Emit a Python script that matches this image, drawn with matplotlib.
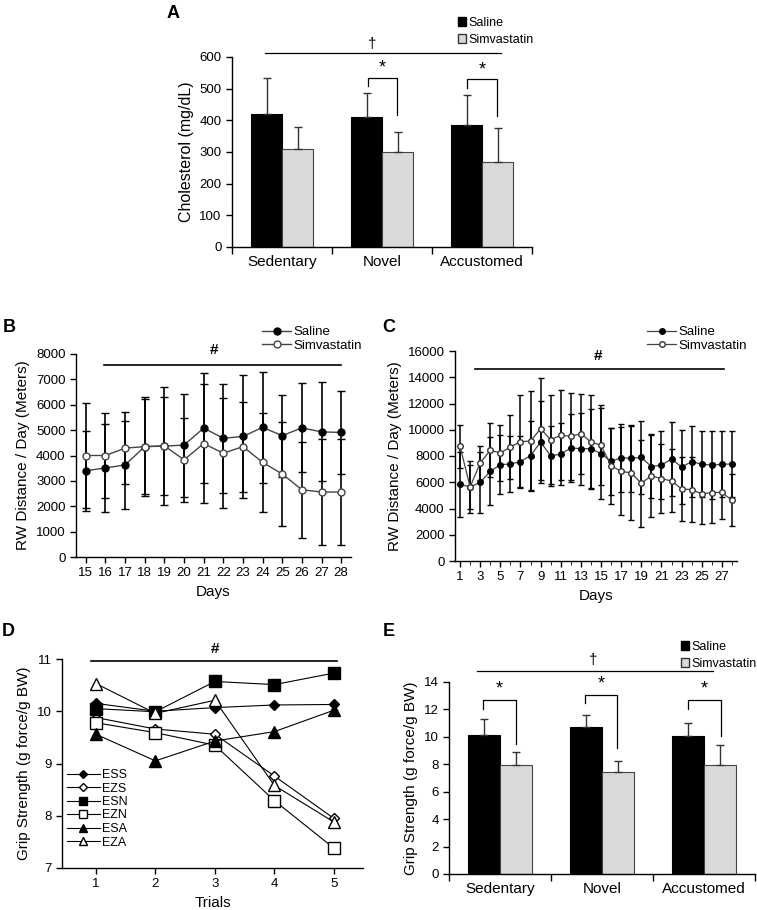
import numpy as np
import matplotlib.pyplot as plt
from matplotlib.patches import Patch

plt.rcParams['font.family'] = ['Liberation Sans', 'DejaVu Sans']
plt.rcParams['axes.linewidth'] = 1.0

# --- data ---
groups = ['Sedentary', 'Novel', 'Accustomed']

# A: cholesterol (mg/dL)
chol_saline = [419, 412, 385]
chol_saline_err = [115, 74, 94]
chol_simva = [310, 301, 267]
chol_simva_err = [69, 63, 110]

# B: RW distance, days 15-28
days_b = list(range(15, 29))
rw_b_saline = [3400, 3510, 3630, 4350, 4370, 4410, 5080, 4680, 4750, 5110, 4780, 5090, 4930, 4910]
rw_b_saline_err = [1580, 1750, 1740, 1880, 1920, 2030, 2180, 2140, 2430, 2200, 1620, 1750, 1950, 1650]
rw_b_simva = [4000, 4000, 4290, 4350, 4380, 3830, 4470, 4090, 4350, 3730, 3270, 2650, 2560, 2560]
rw_b_simva_err = [2050, 1690, 1430, 1950, 2320, 1650, 2350, 2170, 1770, 1950, 2050, 1900, 2080, 2100]

# C: RW distance, days 1-28
days_c = list(range(1, 29))
rw_c_saline = [5840, 5640, 5990, 6830, 7340, 7390, 7570, 8030, 9070, 8000, 8150, 8610, 8560, 8560,
               8180, 7590, 7870, 7820, 7900, 7190, 7310, 7770, 7160, 7570, 7370, 7310, 7370, 7390]
rw_c_saline_err = [2450, 1980, 2300, 2580, 2250, 2150, 1950, 2600, 3150, 2250, 2350, 2600, 2750, 3000,
                   3450, 2580, 2600, 2550, 2770, 2420, 2620, 2850, 2850, 2680, 2520, 2620, 2500, 2500]
rw_c_simva = [8740, 5640, 7470, 8430, 8230, 8690, 9090, 9140, 10080, 9240, 9580, 9500, 9700, 9070,
              8810, 7260, 6830, 6710, 5920, 6500, 6270, 6100, 5490, 5440, 5110, 5210, 5230, 4620]
rw_c_simva_err = [1620, 1650, 1300, 2050, 2150, 2450, 3560, 3800, 3900, 3400, 3430, 3300, 3050, 3550,
                  3050, 2900, 3350, 3600, 3300, 3150, 2650, 2400, 2420, 2480, 2320, 2280, 2050, 1980]

# D: grip strength per trial
trials = [1, 2, 3, 4, 5]
grip_ESS = [10.15, 10.00, 10.07, 10.12, 10.13]
grip_EZS = [9.88, 9.66, 9.56, 8.76, 7.95]
grip_ESN = [10.05, 9.99, 10.57, 10.51, 10.73]
grip_EZN = [9.78, 9.59, 9.35, 8.29, 7.38]
grip_ESA = [9.56, 9.05, 9.43, 9.61, 10.02]
grip_EZA = [10.53, 9.96, 10.21, 8.58, 7.88]

# E: grip strength per group
grip_saline = [10.15, 10.75, 10.05]
grip_saline_err = [1.12, 0.87, 0.95]
grip_simva = [7.98, 7.42, 7.93]
grip_simva_err = [0.92, 0.82, 1.44]

W, H = 757, 910
fig = plt.figure(figsize=(W / 100, H / 100), dpi=100)


def px_axes(left, top, right, bottom):
    return fig.add_axes([left / W, 1 - bottom / H, (right - left) / W, (bottom - top) / H])


def clean(ax):
    ax.spines['top'].set_visible(False)
    ax.spines['right'].set_visible(False)
    ax.tick_params(labelsize=9.5, length=4, width=1)


def bar_panel(ax, sal, sal_err, sim, sim_err):
    x = np.arange(len(groups))
    w = 0.31
    ax.bar(x - w / 2, sal, w, color='black', edgecolor='black', lw=0.8)
    ax.bar(x + w / 2, sim, w, color='#d9d9d9', edgecolor='#444444', lw=0.8)
    ax.errorbar(x - w / 2, sal, yerr=[np.zeros(3), sal_err], fmt='none', ecolor='#333333',
                elinewidth=1, capsize=3)
    ax.errorbar(x + w / 2, sim, yerr=[np.zeros(3), sim_err], fmt='none', ecolor='#333333',
                elinewidth=1, capsize=3)
    ax.set_xlim(-0.5, 2.5)
    ax.set_xticks([-0.5, 0.5, 1.5, 2.5])
    ax.set_xticklabels([])
    ax.set_xticks(x, minor=True)
    ax.set_xticklabels(groups, minor=True, fontsize=11)
    ax.tick_params(axis='x', which='minor', length=0, pad=6)
    clean(ax)
    ax.tick_params(axis='x', which='major', length=5)


def bracket(ax, x0, x1, ytop, yl, yr, star_y):
    ax.plot([x0, x0, x1, x1], [yl, ytop, ytop, yr], color='black', lw=0.9, clip_on=False)
    ax.text((x0 + x1) / 2, star_y, '*', ha='center', va='center', fontsize=13)


def bar_legend(ax, x, y):
    handles = [Patch(facecolor='black', edgecolor='black'),
               Patch(facecolor='#d9d9d9', edgecolor='#333333')]
    ax.legend(handles, ['Saline', 'Simvastatin'], loc='upper left', bbox_to_anchor=(x / W, 1 - y / H),
              bbox_transform=fig.transFigure, frameon=False, fontsize=9, handlelength=0.65,
              handleheight=0.65, handletextpad=0.2, labelspacing=0.4, borderpad=0, borderaxespad=0)


# --- A ---
axA = px_axes(232, 57, 532, 247)
bar_panel(axA, chol_saline, chol_saline_err, chol_simva, chol_simva_err)
axA.set_ylim(0, 600)
axA.set_yticks(range(0, 601, 100))
axA.set_ylabel('Cholesterol (mg/dL)', fontsize=11.5)
bracket(axA, 0.86, 1.15, 535, 507, 416, 565)
bracket(axA, 1.85, 2.15, 529, 503, 413, 558)
axA.plot([-0.17, 2.19], [614, 614], color='black', lw=0.9, clip_on=False)
axA.text(0.9, 641, '\u2020', ha='center', va='center', fontsize=11)
bar_legend(axA, 458, 17)

# --- B ---
axB = px_axes(76, 354, 351, 557)
axB.errorbar(days_b, rw_b_saline, yerr=rw_b_saline_err, fmt='none', ecolor='black', elinewidth=1.2, capsize=3)
axB.errorbar(days_b, rw_b_simva, yerr=rw_b_simva_err, fmt='none', ecolor='black', elinewidth=1.2, capsize=3)
axB.plot(days_b, rw_b_saline, '-o', color='#444444', lw=1, mfc='black', mec='black', ms=5, zorder=5, label='Saline')
axB.plot(days_b, rw_b_simva, '-o', color='#444444', lw=1, mfc='white', mec='#444444', ms=5, zorder=5, label='Simvastatin')
axB.set_xlim(14.5, 28.5)
axB.set_xticks(days_b)
axB.set_ylim(0, 8000)
axB.set_yticks(range(0, 8001, 1000))
axB.set_xlabel('Days', fontsize=11)
axB.set_ylabel('RW Distance / Day (Meters)', fontsize=11)
clean(axB)
axB.plot([15.95, 28.0], [7580, 7580], color='black', lw=1.2, clip_on=False)
axB.text(21.5, 8150, '#', ha='center', va='center', fontsize=11, fontweight='bold')
axB.legend(loc='upper left', bbox_to_anchor=(262 / W, 1 - 326 / H), bbox_transform=fig.transFigure,
           frameon=False, fontsize=9.5, handlelength=2.2, handletextpad=0.2, labelspacing=0.1,
           borderpad=0, borderaxespad=0)

# --- C ---
axC = px_axes(455, 351, 737, 561)
axC.errorbar(days_c, rw_c_saline, yerr=rw_c_saline_err, fmt='none', ecolor='black', elinewidth=1.1, capsize=2.5)
axC.errorbar(days_c, rw_c_simva, yerr=rw_c_simva_err, fmt='none', ecolor='black', elinewidth=1.1, capsize=2.5)
axC.plot(days_c, rw_c_saline, '-o', color='#444444', lw=0.9, mfc='black', mec='black', ms=4, zorder=5, label='Saline')
axC.plot(days_c, rw_c_simva, '-o', color='#444444', lw=0.9, mfc='white', mec='#333333', ms=4, zorder=5, label='Simvastatin')
axC.set_xlim(0.5, 28.5)
axC.set_xticks(range(1, 29, 2))
axC.set_xticks(days_c, minor=True)
axC.set_ylim(0, 16000)
axC.set_yticks(range(0, 16001, 2000))
axC.set_xlabel('Days', fontsize=11)
axC.set_ylabel('RW Distance / Day (Meters)', fontsize=11)
clean(axC)
axC.tick_params(axis='x', which='minor', length=3)
axC.plot([2.5, 27.2], [14650, 14650], color='black', lw=1.2, clip_on=False)
axC.text(14.7, 15600, '#', ha='center', va='center', fontsize=11, fontweight='bold')
axC.legend(loc='upper left', bbox_to_anchor=(647 / W, 1 - 326 / H), bbox_transform=fig.transFigure,
           frameon=False, fontsize=9.5, handlelength=2.2, handletextpad=0.2, labelspacing=0.1,
           borderpad=0, borderaxespad=0)

# --- D ---
axD = px_axes(62, 659, 363, 868)
style = dict(color='black', lw=0.8, mec='black')
axD.plot(trials, grip_ESS, '-D', mfc='black', ms=5.5, label='ESS', **style)
axD.plot(trials, grip_EZS, '-D', mfc='white', ms=5.5, label='EZS', **style)
axD.plot(trials, grip_ESN, '-s', mfc='black', ms=8, label='ESN', **style)
axD.plot(trials, grip_EZN, '-s', mfc='white', ms=8, label='EZN', **style)
axD.plot(trials, grip_ESA, '-^', mfc='black', ms=8, label='ESA', **style)
axD.plot(trials, grip_EZA, '-^', mfc='white', ms=8, label='EZA', **style)
axD.set_xlim(0.43, 5.49)
axD.set_xticks(trials)
axD.set_ylim(7, 11)
axD.set_yticks([7, 8, 9, 10, 11])
axD.set_xlabel('Trials', fontsize=11)
axD.set_ylabel('Grip Strength (g force/g BW)', fontsize=11)
clean(axD)
axD.plot([0.92, 5.05], [10.97, 10.97], color='black', lw=1.2, clip_on=False)
axD.text(3.0, 11.2, '#', ha='center', va='center', fontsize=11, fontweight='bold')
axD.legend(loc='upper left', bbox_to_anchor=(67 / W, 1 - 769 / H), bbox_transform=fig.transFigure,
           frameon=False, fontsize=9, handlelength=2.6, handletextpad=0.2, labelspacing=0.12,
           borderpad=0, borderaxespad=0, markerscale=0.7)

# --- E ---
axE = px_axes(449, 682, 755, 874)
bar_panel(axE, grip_saline, grip_saline_err, grip_simva, grip_simva_err)
axE.set_ylim(0, 14)
axE.set_yticks(range(0, 15, 2))
axE.set_ylabel('Grip Strength (g force/g BW)', fontsize=11)
bracket(axE, -0.166, 0.16, 12.71, 12.03, 9.5, 13.5)
bracket(axE, 0.83, 1.15, 13.08, 12.47, 9.19, 13.85)
bracket(axE, 1.84, 2.17, 12.71, 12.03, 10.04, 13.5)
axE.plot([-0.23, 2.09], [14.78, 14.78], color='black', lw=0.9, clip_on=False)
axE.text(0.91, 15.6, '\u2020', ha='center', va='center', fontsize=11)
bar_legend(axE, 681, 641)

# panel letters
for lab, x, y in [('A', 173, 13), ('B', 9, 327), ('C', 389, 327), ('D', 8, 631), ('E', 389, 631)]:
    fig.text(x / W, 1 - y / H, lab, ha='center', va='center', fontsize=13, fontweight='bold')

fig.savefig('out.png', dpi=100)
